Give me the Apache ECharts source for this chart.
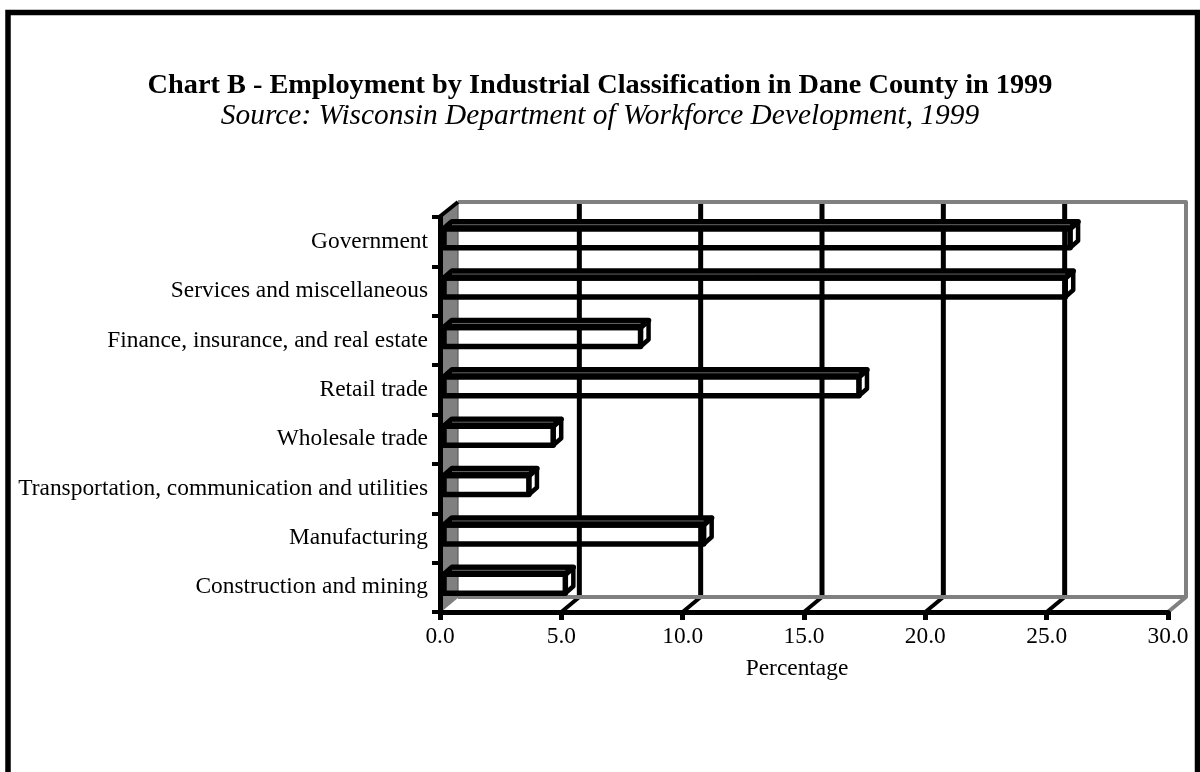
<!DOCTYPE html>
<html>
<head>
<meta charset="utf-8">
<script src="https://cdn.jsdelivr.net/npm/echarts@6/dist/echarts.min.js"></script>
<style>html,body{margin:0;padding:0;background:#fff}#c{width:1200px;height:772px}</style>
</head>
<body>
<div id="c"></div>
<script>
const categories = [
  'Government',
  'Services and miscellaneous',
  'Finance, insurance, and real estate',
  'Retail trade',
  'Wholesale trade',
  'Transportation, communication and utilities',
  'Manufacturing',
  'Construction and mining'
];
const percentages = [25.8, 25.6, 8.1, 17.1, 4.5, 3.5, 10.7, 5.0];
const xTickValues = [0, 5, 10, 15, 20, 25, 30];
const titleText = 'Chart B - Employment by Industrial Classification in Dane County in 1999';
const subtitleText = 'Source: Wisconsin Department of Workforce Development, 1999';
const xAxisName = 'Percentage';

const FONT = '"Liberation Serif", "Times New Roman", serif';
const DEPTH = [18, -15];
const BAR_DX = 8, BAR_DY = 7;

const chart = echarts.init(document.getElementById('c'), null, {renderer: 'canvas'});

function frameItem(params, api) {
  const cs = params.coordSys;
  const x = cs.x, y = cs.y, w = cs.width, h = cs.height;
  const dx = DEPTH[0], dy = DEPTH[1];
  const children = [];
  children.push({type: 'polygon', shape: {points: [[x, y], [x + dx, y + dy], [x + dx, y + h + dy], [x, y + h]]},
    style: {fill: '#808080', stroke: null}});
  children.push({type: 'line', shape: {x1: x + dx, y1: y + dy, x2: x + dx, y2: y + h + dy},
    style: {stroke: '#5a5a5a', lineWidth: 1.2}});
  xTickValues.forEach(function (v) {
    if (v === xTickValues[0] || v === xTickValues[xTickValues.length - 1]) return;
    const px = api.coord([v, 0])[0];
    children.push({type: 'line', shape: {x1: px + dx, y1: y + dy, x2: px + dx, y2: y + h + dy},
      style: {stroke: '#000', lineWidth: 5}});
    children.push({type: 'line', shape: {x1: px + dx, y1: y + h + dy, x2: px, y2: y + h},
      style: {stroke: '#000', lineWidth: 4}});
  });
  children.push({type: 'polyline', shape: {points: [[x + dx, y + dy], [x + w + dx, y + dy], [x + w + dx, y + h + dy], [x + w, y + h]]},
    style: {stroke: '#808080', lineWidth: 4, fill: null, lineJoin: 'round'}});
  children.push({type: 'line', shape: {x1: x + dx, y1: y + h + dy, x2: x + w + dx, y2: y + h + dy},
    style: {stroke: '#808080', lineWidth: 4}});
  children.push({type: 'line', shape: {x1: x, y1: y + h, x2: x + dx, y2: y + h + dy},
    style: {stroke: '#808080', lineWidth: 1.5}});
  children.push({type: 'line', shape: {x1: x - 2, y1: y + 1, x2: x + dx, y2: y + dy},
    style: {stroke: '#000', lineWidth: 4}});
  return {type: 'group', children: children};
}

function barItem(params, api) {
  const v = api.value(0);
  const c = api.value(1);
  const p0 = api.coord([0, c]);
  const p1 = api.coord([v, c]);
  const yc = p0[1];
  const x0 = p0[0] + 4, x1 = p1[0] + 4;
  const top = yc - 13, bottom = yc + 6;
  const ddx = BAR_DX, ddy = BAR_DY;
  const st = {stroke: '#000', lineWidth: 5.5, fill: null, lineJoin: 'round'};
  return {type: 'group', children: [
    {type: 'polygon', shape: {points: [[x0, top], [x1, top], [x1, bottom], [x0, bottom]]}, style: st},
    {type: 'polygon', shape: {points: [[x0, top], [x0 + ddx, top - ddy], [x1 + ddx, top - ddy], [x1, top]]},
      style: {stroke: '#000', lineWidth: 5.5, fill: '#000', lineJoin: 'round'}},
    {type: 'polygon', shape: {points: [[x1, top], [x1 + ddx, top - ddy], [x1 + ddx, bottom - ddy], [x1, bottom]]},
      style: {stroke: '#000', lineWidth: 4.5, fill: null, lineJoin: 'round'}},
    {type: 'line', shape: {x1: x0 + ddx, y1: top - ddy / 2 - 0.5, x2: x1, y2: top - ddy / 2 - 0.5},
      style: {stroke: '#808080', lineWidth: 0.8}}
  ]};
}

const option = {
  backgroundColor: '#fff',
  animation: false,
  title: {
    text: titleText,
    subtext: subtitleText,
    left: 'center',
    top: 66,
    itemGap: 0,
    textStyle: {fontFamily: FONT, fontSize: 28.3, fontWeight: 'bold', color: '#000', lineHeight: 30},
    subtextStyle: {fontFamily: FONT, fontSize: 29.4, fontStyle: 'italic', color: '#000', lineHeight: 30}
  },
  grid: {left: 440, right: 32, top: 217, bottom: 160, containLabel: false},
  xAxis: {
    type: 'value', min: 0, max: 30, interval: 5, z: 5,
    name: xAxisName, nameLocation: 'middle', nameGap: 45,
    nameTextStyle: {fontFamily: FONT, fontSize: 23.4, color: '#000', padding: [0, 14, 0, 0]},
    axisLine: {show: true, lineStyle: {color: '#000', width: 5}},
    axisTick: {show: true, length: 8, lineStyle: {color: '#000', width: 5}},
    axisLabel: {fontFamily: FONT, fontSize: 23.4, color: '#000', margin: 13,
      formatter: function (v) { return v.toFixed(1); }},
    splitLine: {show: false}
  },
  yAxis: {
    type: 'category', data: categories, inverse: true, z: 5,
    axisLine: {show: true, lineStyle: {color: '#000', width: 5}},
    axisTick: {show: true, length: 8, lineStyle: {color: '#000', width: 4}},
    axisLabel: {fontFamily: FONT, fontSize: 23.4, color: '#000', margin: 12, padding: [3, 0, 0, 0]},
    splitLine: {show: false}
  },
  graphic: [{
    type: 'rect', z: 100, silent: true,
    shape: {x: 8, y: 12.5, width: 1189.5, height: 800},
    style: {fill: null, stroke: '#000', lineWidth: 5.5}
  }],
  series: [
    {type: 'custom', z: 1, silent: true, renderItem: frameItem, data: [[0, 0]], clip: false},
    {type: 'custom', z: 3, silent: true, renderItem: barItem, clip: false,
      data: percentages.map(function (v, i) { return [v, i]; })}
  ]
};
chart.setOption(option);
</script>
</body>
</html>
